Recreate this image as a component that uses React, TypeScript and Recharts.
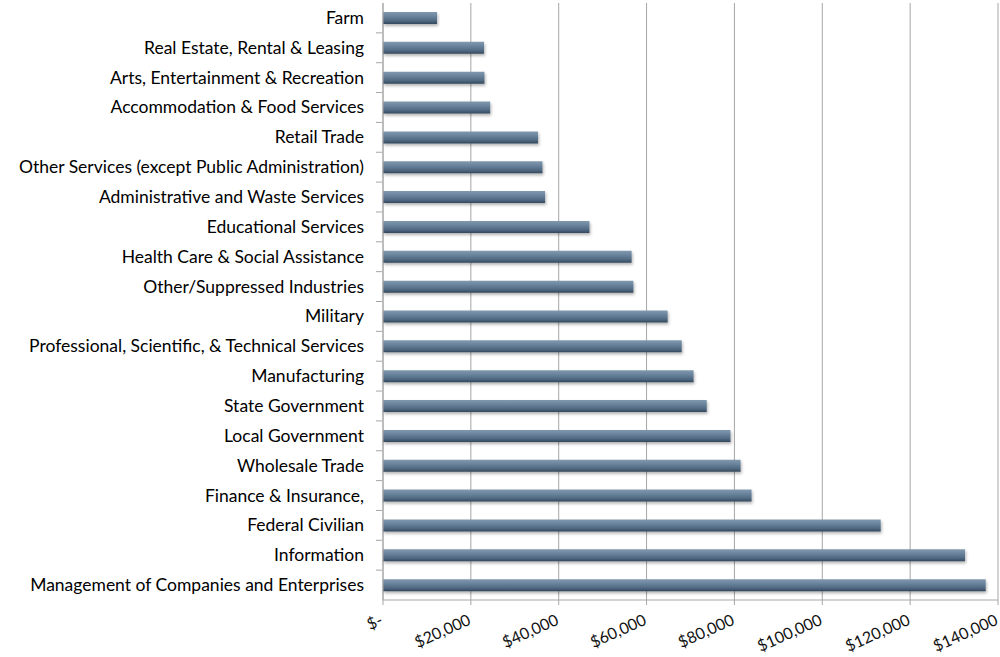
import {
  Bar,
  BarChart,
  CartesianGrid,
  XAxis,
  YAxis,
} from "recharts";

const industries = [
  "Farm",
  "Real Estate, Rental & Leasing",
  "Arts, Entertainment & Recreation",
  "Accommodation & Food Services",
  "Retail Trade",
  "Other Services (except Public Administration)",
  "Administrative and Waste Services",
  "Educational Services",
  "Health Care & Social Assistance",
  "Other/Suppressed Industries",
  "Military",
  "Professional, Scientific, & Technical Services",
  "Manufacturing",
  "State Government",
  "Local Government",
  "Wholesale Trade",
  "Finance & Insurance,",
  "Federal Civilian",
  "Information",
  "Management of Companies and Enterprises",
];

const earnings = [
  12300, 23000, 23100, 24400, 35300, 36300, 36900, 47000, 56600, 57000,
  64800, 68000, 70700, 73700, 79100, 81400, 83900, 113300, 132500, 137200,
];

const xTicks = [0, 20000, 40000, 60000, 80000, 100000, 120000, 140000];

const data = industries.map((name, i) => ({ name, value: earnings[i] }));

const font = "Lato, 'Open Sans', sans-serif";

function money(v: number) {
  return v === 0 ? "$-" : "$" + v.toLocaleString("en-US");
}

function XTick(props: any) {
  const { x, y, payload } = props;
  const ax = x + 1;
  const ay = y + 17;
  return (
    <text
      x={ax}
      y={ay}
      textAnchor="end"
      transform={`rotate(-24, ${ax}, ${ay})`}
      fontSize={16}
      fontFamily={font}
      fill="#111"
    >
      {money(payload.value)}
    </text>
  );
}

// category label plus Excel-style tick mark at the band's lower edge
function YTick(props: any) {
  const { x, y, payload, index, visibleTicksCount } = props;
  const band = 597 / (visibleTicksCount || 20);
  return (
    <g>
      {index > 0 && (
        <line x1={x + 12} x2={x + 18} y1={y - band / 2} y2={y - band / 2} stroke="#a6a6a6" />
      )}
      <text
        x={x}
        y={y}
        dy={6}
        textAnchor="end"
        fontSize={17.5}
        fontFamily={font}
        fill="#000"
      >
        {payload.value}
      </text>
    </g>
  );
}

export default function App() {
  return (
    <div style={{ position: "absolute", left: 0, top: 0, background: "#fff" }}>
      <BarChart
        width={1000}
        height={657}
        data={data}
        layout="vertical"
        margin={{ top: 3, right: 2, left: 0, bottom: 0 }}
        barSize={12}
      >
        <defs>
          <linearGradient id="barFill" x1="0" y1="0" x2="0" y2="1">
            <stop offset="0%" stopColor="#8199ae" />
            <stop offset="35%" stopColor="#6a849d" />
            <stop offset="75%" stopColor="#4f6880" />
            <stop offset="100%" stopColor="#33475b" />
          </linearGradient>
          <filter id="shadow" x="-5%" y="-50%" width="110%" height="220%">
            <feDropShadow dx="1" dy="2" stdDeviation="1.5" floodColor="#000" floodOpacity="0.3" />
          </filter>
        </defs>
        <CartesianGrid horizontal={false} stroke="#a6a6a6" />
        <XAxis
          type="number"
          domain={[0, 140000]}
          ticks={xTicks}
          interval={0}
          stroke="#a6a6a6"
          tickSize={5}
          tick={<XTick />}
          height={57}
        />
        <YAxis
          type="category"
          dataKey="name"
          width={383}
          interval={0}
          stroke="#a6a6a6"
          tickLine={false}
          tick={<YTick />}
          tickMargin={13}
        />
        <Bar
          dataKey="value"
          fill="url(#barFill)"
          filter="url(#shadow)"
          isAnimationActive={false}
        />
      </BarChart>
    </div>
  );
}
